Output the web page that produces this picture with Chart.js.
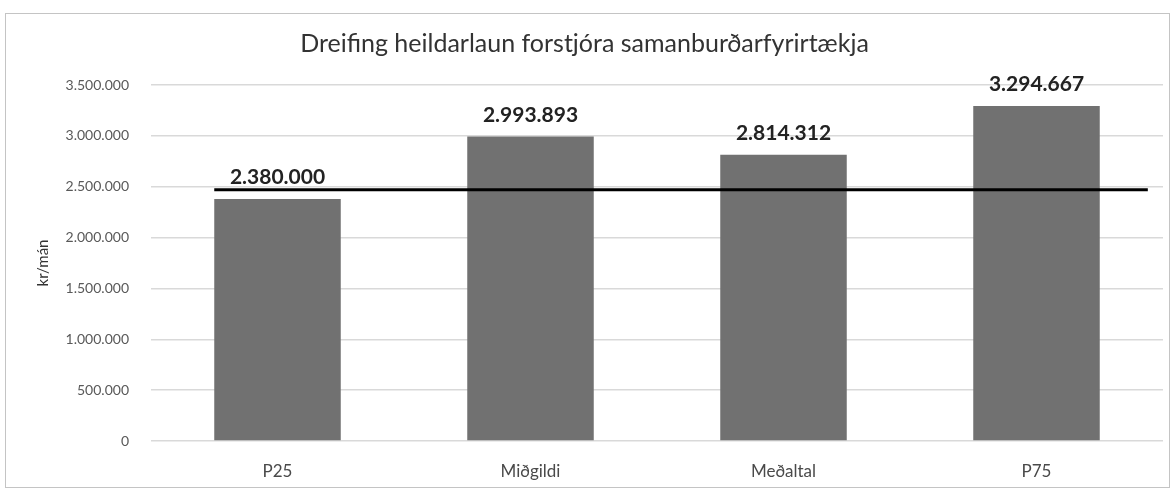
<!DOCTYPE html>
<html>
<head>
<meta charset="utf-8">
<script src="https://cdn.jsdelivr.net/npm/chart.js@4"></script>
<style>
  body { margin: 0; background: #fff; }
  #box { position: absolute; left: 5px; top: 13px; width: 1163px; height: 473px; border: 1px solid #c4c4c4; }
</style>
</head>
<body>
<div id="box"><canvas id="chart"></canvas></div>
<script>
// gögn lesin af myndinni
const categories = ['P25', 'Miðgildi', 'Meðaltal', 'P75'];
const salaries = [2380000, 2993893, 2814312, 3294667];
const referenceLevel = [2470000, 2470000];
const referenceSpan = [-0.25, 3.44]; // staðsetning línu á x-ás (flokkavísar)
const yTicks = [0, 500000, 1000000, 1500000, 2000000, 2500000, 3000000, 3500000];

const fmt = (v) => Math.round(v).toString().replace(/\B(?=(\d{3})+(?!\d))/g, '.');

// gildi ofan á súlur
const valueLabels = {
  id: 'valueLabels',
  afterDatasetsDraw(chart) {
    const ctx = chart.ctx;
    const meta = chart.getDatasetMeta(0);
    ctx.save();
    ctx.font = 'bold 21px Lato';
    ctx.fillStyle = '#222';
    ctx.textAlign = 'center';
    ctx.textBaseline = 'bottom';
    meta.data.forEach((bar, i) => {
      ctx.fillText(fmt(salaries[i]), bar.x, bar.y - 11);
    });
    ctx.restore();
  }
};

new Chart(document.getElementById('chart'), {
  type: 'bar',
  data: {
    labels: categories,
    datasets: [
      {
        type: 'bar',
        data: salaries,
        backgroundColor: '#717171',
        grouped: false,
        categoryPercentage: 1,
        barPercentage: 0.5,
        order: 1,
      },
      {
        type: 'line',
        xAxisID: 'xLine',
        data: referenceSpan.map((x, i) => ({ x: x, y: referenceLevel[i] })),
        borderColor: '#000',
        borderWidth: 3,
        pointRadius: 0,
        order: 0,
      },
    ],
  },
  plugins: [valueLabels],
  options: {
    responsive: true,
    maintainAspectRatio: false,
    animation: false,
    layout: { padding: { top: 6, right: 6, bottom: 0, left: 0 } },
    plugins: {
      legend: { display: false },
      tooltip: { enabled: false },
      title: {
        display: true,
        text: 'Dreifing heildarlaun forstjóra samanburðarfyrirtækja',
        color: '#333',
        font: { family: 'Lato', size: 25, weight: 'normal' },
        padding: { top: 9, bottom: 26 },
      },
    },
    scales: {
      x: {
        grid: { display: false, drawTicks: false },
        border: { display: false },
        afterFit: (scale) => { scale.height = 46; },
        ticks: { color: '#4a4a4a', font: { family: 'Lato', size: 17 }, padding: 20 },
      },
      xLine: {
        type: 'linear',
        display: false,
        offset: false,
        min: -0.5,
        max: 3.5,
      },
      y: {
        min: 0,
        max: 3500000,
        afterBuildTicks: (scale) => { scale.ticks = yTicks.map((v) => ({ value: v })); },
        afterFit: (scale) => { scale.width = 145; },
        grid: { color: '#d9d9d9', lineWidth: 1.5, drawTicks: false },
        border: { display: false },
        ticks: {
          color: '#595959',
          font: { family: 'Lato', size: 14 },
          padding: 22,
          callback: (v) => fmt(v),
        },
        title: {
          display: true,
          text: 'kr/mán',
          color: '#333',
          font: { family: 'Lato', size: 15 },
          padding: { top: 28, bottom: 0 },
        },
      },
    },
  },
});
</script>
</body>
</html>
